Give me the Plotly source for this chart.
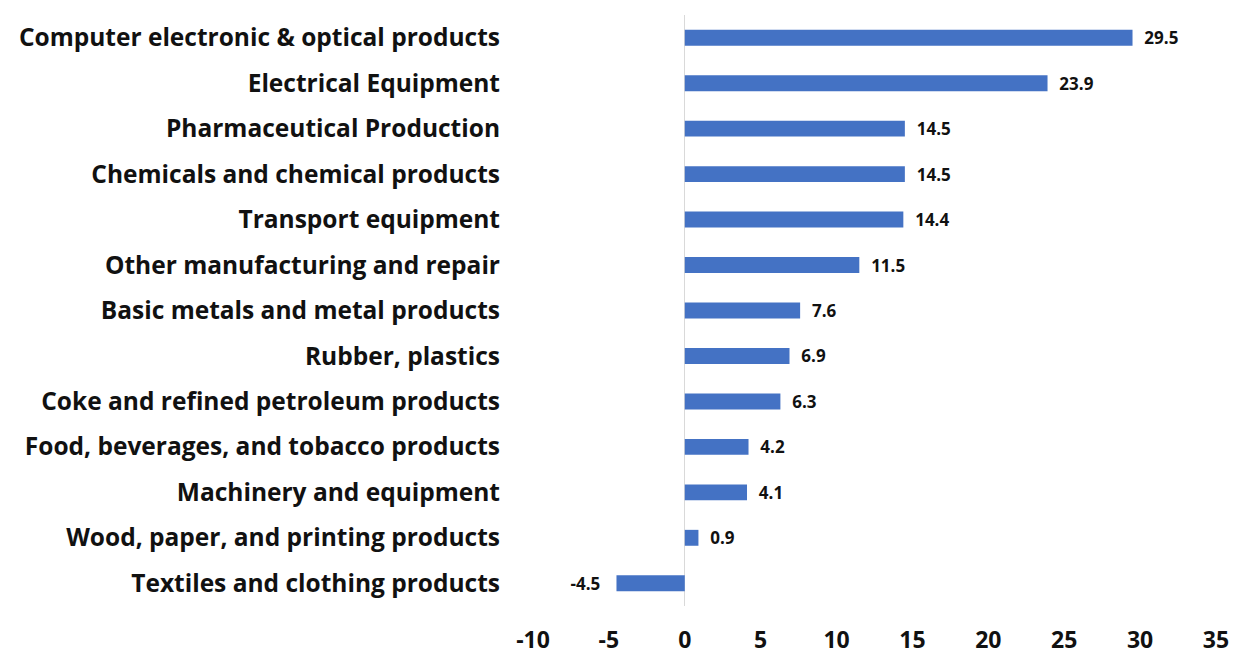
import plotly.graph_objects as go

categories = [
    "Computer electronic & optical products",
    "Electrical Equipment",
    "Pharmaceutical Production",
    "Chemicals and chemical products",
    "Transport equipment",
    "Other manufacturing and repair",
    "Basic metals and metal products",
    "Rubber, plastics",
    "Coke and refined petroleum products",
    "Food, beverages, and tobacco products",
    "Machinery and equipment",
    "Wood, paper, and printing products",
    "Textiles and clothing products",
]
values = [29.5, 23.9, 14.5, 14.5, 14.4, 11.5, 7.6, 6.9, 6.3, 4.2, 4.1, 0.9, -4.5]
x_ticks = [-10, -5, 0, 5, 10, 15, 20, 25, 30, 35]

NB = "\u00a0"
labels = [(NB * 2 + f"{v:.1f}") if v >= 0 else (f"{v:.1f}" + NB * 3) for v in values]

FONT = "Open Sans"

fig = go.Figure(go.Bar(
    x=values,
    y=categories,
    orientation="h",
    marker=dict(color="#4472C4", line=dict(width=0)),
    text=labels,
    textposition="outside",
    constraintext="none",
    textfont=dict(family=FONT, size=17, color="#111111", weight="bold"),
    cliponaxis=False,
))

fig.update_layout(
    width=1235, height=652,
    margin=dict(l=525, r=27, t=7, b=54, autoexpand=False),
    paper_bgcolor="white", plot_bgcolor="white",
    bargap=0.65,
    showlegend=False,
    font=dict(family=FONT),
)
fig.update_xaxes(
    range=[-10, 35],
    tickvals=x_ticks,
    ticktext=[str(t) for t in x_ticks],
    showgrid=False,
    zeroline=True, zerolinecolor="#d9d9d9", zerolinewidth=1,
    showline=False,
    ticks="",
    automargin=False,
    ticklabelstandoff=18,
    tickfont=dict(family=FONT, size=23, color="#111111", weight="bold"),
)
fig.update_yaxes(
    categoryorder="array",
    categoryarray=categories[::-1],
    range=[-0.5, len(categories) - 0.5],
    showgrid=False, showline=False, ticks="",
    automargin=False,
    ticklabelstandoff=32,
    tickfont=dict(family=FONT, size=24.5, color="#111111", weight="bold"),
)

fig.write_html("out.html")
